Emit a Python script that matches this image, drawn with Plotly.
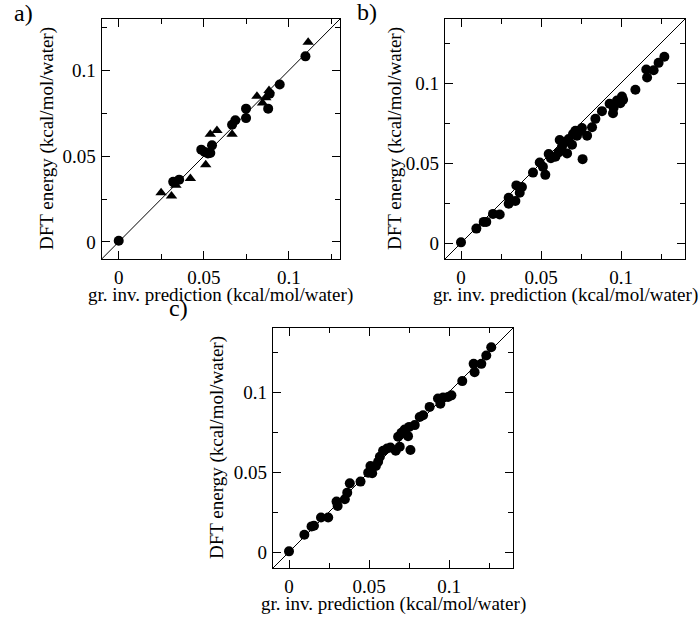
import plotly.graph_objects as go

# ---- data: panel a ----
a_circ_x = [0.0, 0.032, 0.0355, 0.0485, 0.0505, 0.0524, 0.0538, 0.0548, 0.0666, 0.0685, 0.0748, 0.0748, 0.0878, 0.0887, 0.0946, 0.1097]
a_circ_y = [0.0006, 0.035, 0.0363, 0.0538, 0.0524, 0.0515, 0.0518, 0.0563, 0.0683, 0.0709, 0.0722, 0.0777, 0.0777, 0.0864, 0.0918, 0.1082]
a_tri_x = [0.0249, 0.031, 0.0336, 0.0421, 0.0511, 0.0538, 0.0577, 0.0666, 0.0812, 0.0845, 0.0883, 0.0864, 0.1113]
a_tri_y = [0.0287, 0.0268, 0.033, 0.0369, 0.045, 0.0627, 0.065, 0.0627, 0.0849, 0.081, 0.0883, 0.0841, 0.1165]

# ---- data: panel b ----
b_x = [0.0, 0.0096, 0.0142, 0.0158, 0.02, 0.0242, 0.0298, 0.0298, 0.034, 0.0346, 0.0367, 0.0381, 0.045,
       0.0492, 0.0512, 0.0527, 0.0548, 0.0562, 0.059, 0.061, 0.0617, 0.0631, 0.0646, 0.0663, 0.0673, 0.0694,
       0.07, 0.0715, 0.0725, 0.0742, 0.0756, 0.076, 0.0788, 0.0819, 0.084, 0.0881, 0.0929, 0.095, 0.0954,
       0.0975, 0.0996, 0.1006, 0.1013, 0.109, 0.1163, 0.1158, 0.1204, 0.1235, 0.1271]
b_y = [0.0004, 0.009, 0.0132, 0.0132, 0.0182, 0.0178, 0.0283, 0.0245, 0.0262, 0.036, 0.0314, 0.035, 0.044,
       0.0503, 0.0476, 0.0426, 0.0556, 0.053, 0.0539, 0.0566, 0.0644, 0.0602, 0.0629, 0.056, 0.065, 0.0614,
       0.0681, 0.0702, 0.0671, 0.0702, 0.0719, 0.0524, 0.0671, 0.0723, 0.0776, 0.0824, 0.087, 0.0811, 0.0845,
       0.0891, 0.0874, 0.0916, 0.0895, 0.0958, 0.1034, 0.1084, 0.108, 0.1126, 0.1164]

# ---- data: panel c ----
c_x = [0.0, 0.0096, 0.0141, 0.0156, 0.02, 0.0245, 0.0297, 0.0304, 0.0349, 0.0364, 0.038, 0.0447, 0.0495,
       0.0509, 0.052, 0.0543, 0.0557, 0.0568, 0.0588, 0.0613, 0.0634, 0.0667, 0.0682, 0.0692, 0.0703, 0.0723,
       0.0744, 0.0759, 0.0751, 0.0786, 0.0817, 0.0838, 0.0879, 0.0931, 0.0946, 0.0963, 0.0994, 0.1015, 0.1083,
       0.116, 0.1154, 0.1202, 0.1233, 0.1264]
c_y = [0.0004, 0.0108, 0.016, 0.0164, 0.0216, 0.0216, 0.0315, 0.0288, 0.033, 0.0371, 0.0429, 0.044, 0.0496,
       0.0537, 0.0492, 0.0537, 0.0564, 0.0595, 0.0633, 0.0647, 0.0653, 0.0633, 0.072, 0.0658, 0.0745, 0.0766,
       0.0724, 0.0637, 0.0782, 0.0793, 0.0844, 0.0855, 0.0907, 0.0959, 0.0927, 0.0965, 0.0969, 0.0979, 0.1068,
       0.1124, 0.1176, 0.1176, 0.1228, 0.128]

ranges = {"a": [-0.01, 0.13], "b": [-0.01, 0.14], "c": [-0.01, 0.14]}
tickvals_major = [0, 0.05, 0.1]
ticktext_major = ["0", "0.05", "0.1"]
tickvals_minor = [0.025, 0.075, 0.125]
xtitle = "gr. inv. prediction (kcal/mol/water)"
ytitle = "DFT energy (kcal/mol/water)"
panel_labels = ["a)", "b)", "c)"]

W, H = 700, 617
FONT = "Liberation Serif"

# panel frames in pixels: (left, right, top, bottom)
frames = {"a": (101.7, 340, 19, 259), "b": (445, 685, 19, 259), "c": (273, 513, 328, 568)}
ytitle_x = {"a": 47, "b": 395, "c": 217}

fig = go.Figure()
mk = dict(color="black", size=10, line=dict(width=0))

axis_ids = {"a": ("x", "y"), "b": ("x2", "y2"), "c": ("x3", "y3")}

for key in ["a", "b", "c"]:
    xa, ya = axis_ids[key]
    r = ranges[key]
    fig.add_trace(go.Scatter(x=r, y=r, mode="lines", line=dict(color="black", width=1),
                             xaxis=xa, yaxis=ya, showlegend=False, hoverinfo="skip"))

fig.add_trace(go.Scatter(x=a_circ_x, y=a_circ_y, mode="markers", marker=dict(symbol="circle", **mk),
                         xaxis="x", yaxis="y", showlegend=False))
fig.add_trace(go.Scatter(x=a_tri_x, y=a_tri_y, mode="markers", marker=dict(symbol="triangle-up", **mk),
                         xaxis="x", yaxis="y", showlegend=False))
fig.add_trace(go.Scatter(x=b_x, y=b_y, mode="markers", marker=dict(symbol="circle", **mk),
                         xaxis="x2", yaxis="y2", showlegend=False))
fig.add_trace(go.Scatter(x=c_x, y=c_y, mode="markers", marker=dict(symbol="circle", **mk),
                         xaxis="x3", yaxis="y3", showlegend=False))

def ax_common(r):
    return dict(range=r, showline=True, mirror="ticks", linecolor="black", linewidth=1.4,
                ticks="inside", ticklen=8, tickwidth=1.2, tickcolor="black",
                tickvals=tickvals_major, ticktext=ticktext_major, ticklabelstandoff=1,
                minor=dict(ticks="inside", ticklen=5, tickwidth=1.2, tickcolor="black",
                           tickvals=tickvals_minor, showgrid=False),
                showgrid=False, zeroline=False,
                tickfont=dict(family=FONT, size=19, color="black"))

layout = {}
annotations = []
for i, key in enumerate(["a", "b", "c"]):
    l, rr, t, b = frames[key]
    sfx = "" if i == 0 else str(i + 1)
    xd = [l / W, rr / W]
    yd = [1 - b / H, 1 - t / H]
    xa = ax_common(ranges[key]); xa.update(domain=xd, anchor="y" + sfx)
    ya = ax_common(ranges[key]); ya.update(domain=yd, anchor="x" + sfx)
    layout["xaxis" + sfx] = xa
    layout["yaxis" + sfx] = ya
    cx = (l + rr) / 2
    cy = (t + b) / 2
    annotations.append(dict(text=xtitle, x=cx / W, y=1 - (b + 36) / H, xref="paper", yref="paper",
                            showarrow=False, font=dict(family=FONT, size=19, color="black"),
                            xanchor="center", yanchor="middle"))
    annotations.append(dict(text=ytitle, x=ytitle_x[key] / W, y=1 - cy / H, xref="paper", yref="paper",
                            showarrow=False, textangle=-90, font=dict(family=FONT, size=19, color="black"),
                            xanchor="center", yanchor="middle"))

lab_pos = {"a": (23, 13), "b": (367, 12), "c": (178, 308)}
for key, txt in zip(["a", "b", "c"], panel_labels):
    px, py = lab_pos[key]
    annotations.append(dict(text=txt, x=px / W, y=1 - py / H, xref="paper", yref="paper",
                            showarrow=False, font=dict(family=FONT, size=24, color="black"),
                            xanchor="center", yanchor="middle"))

fig.update_layout(width=W, height=H, margin=dict(l=0, r=0, t=0, b=0),
                  paper_bgcolor="white", plot_bgcolor="white",
                  annotations=annotations, showlegend=False, **layout)

fig.write_html("out.html")
